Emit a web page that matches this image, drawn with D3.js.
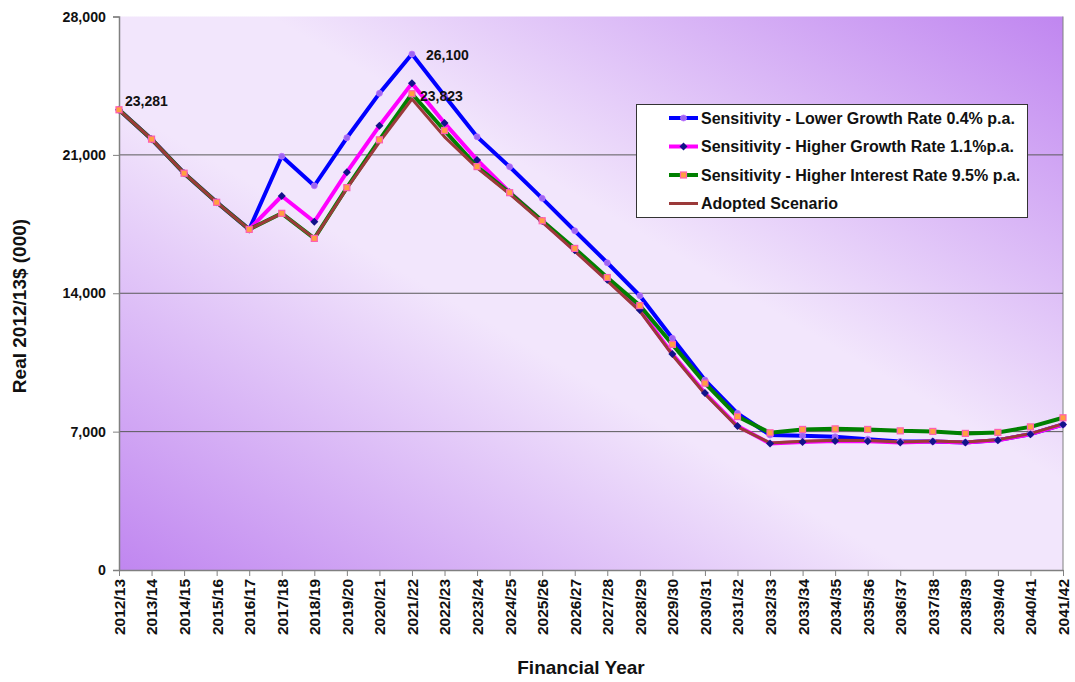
<!DOCTYPE html>
<html><head><meta charset="utf-8">
<script src="https://cdn.jsdelivr.net/npm/d3@7"></script>
<style>
html,body{margin:0;padding:0;background:#fff;}
text{font-family:"Liberation Sans",Arial,sans-serif;font-weight:bold;fill:#111;}
</style></head>
<body>
<svg id="c" width="1075" height="682"></svg>
<script>
const categories = ["2012/13","2013/14","2014/15","2015/16","2016/17","2017/18","2018/19","2019/20","2020/21","2021/22","2022/23","2023/24","2024/25","2025/26","2026/27","2027/28","2028/29","2029/30","2030/31","2031/32","2032/33","2033/34","2034/35","2035/36","2036/37","2037/38","2038/39","2039/40","2040/41","2041/42"];
const lowerGrowth = [23281,21796,20072,18601,17231,20930,19438,21866,24112,26100,23990,21916,20399,18801,17162,15543,13874,11720,9610,7926,6828,6790,6740,6620,6500,6500,6450,6570,6870,7360];
const higherGrowth = [23281,21796,20072,18601,17231,18920,17617,20123,22471,24617,22608,20747,19108,17650,16180,14680,13150,10930,8950,7280,6400,6480,6530,6515,6450,6500,6450,6565,6870,7360];
const higherInterest = [23281,21796,20072,18601,17231,18043,16775,19342,21761,24094,22233,20407,19088,17668,16268,14796,13376,11413,9452,7761,6940,7110,7140,7110,7040,7010,6910,6960,7240,7700];
const adopted = [23281,21796,20072,18601,17231,18043,16775,19300,21650,23823,21913,20341,19022,17600,16130,14630,13100,10880,8900,7240,6430,6510,6560,6545,6480,6530,6480,6595,6900,7390];
const yTicks = [0,7000,14000,21000,28000];
const seriesNames = ["Sensitivity - Lower Growth Rate 0.4% p.a.","Sensitivity - Higher Growth Rate 1.1%p.a.","Sensitivity - Higher Interest Rate 9.5% p.a.","Adopted Scenario"];
const dataLabels = [{s:3,i:0,text:"23,281",dx:6,dy:-4},{s:0,i:9,text:"26,100",dx:14,dy:6},{s:3,i:9,text:"23,823",dx:8,dy:2}];

const svg = d3.select("#c");
const L=119,R=1063,T=16.5,B=570;
const x = d3.scalePoint().domain(categories).range([L,R]);
const y = d3.scaleLinear().domain([0,28000]).range([B,T]);

const defs = svg.append("defs");
const g = defs.append("linearGradient").attr("id","bg").attr("x1",1).attr("y1",0).attr("x2",0).attr("y2",1);
g.append("stop").attr("offset",0).attr("stop-color","#c086f0");
g.append("stop").attr("offset",0.42).attr("stop-color","#f2e6fc");
g.append("stop").attr("offset",0.58).attr("stop-color","#f2e6fc");
g.append("stop").attr("offset",1).attr("stop-color","#c086f0");

svg.append("rect").attr("x",L).attr("y",T).attr("width",R-L).attr("height",B-T).attr("fill","url(#bg)");
svg.append("line").attr("x1",R).attr("x2",R).attr("y1",T).attr("y2",B).attr("stroke","#808080").attr("stroke-width",1);

svg.append("g").selectAll("line").data(yTicks.filter(d=>d>0 && d<28000)).join("line")
  .attr("x1",L).attr("x2",R).attr("y1",d=>y(d)).attr("y2",d=>y(d))
  .attr("stroke","#5a5a5a").attr("stroke-width",1);

const yAxis = svg.append("g").attr("transform",`translate(${L},0)`)
  .call(d3.axisLeft(y).tickValues(yTicks).tickSize(6).tickPadding(7).tickFormat(d3.format(",")));
yAxis.select(".domain").attr("stroke","#808080").attr("stroke-width",1.5);
yAxis.selectAll(".tick line").attr("stroke","#808080");
yAxis.selectAll(".tick text").style("font-size","14.2px").attr("fill","#111");

const xAxis = svg.append("g").attr("transform",`translate(0,${B})`)
  .call(d3.axisBottom(x).tickSize(6).tickSizeOuter(0));
xAxis.select(".domain").attr("stroke","#808080").attr("stroke-width",1.5);
xAxis.selectAll(".tick line").attr("stroke","#808080");
xAxis.selectAll(".tick text").style("font-size","15.5px").attr("fill","#111")
  .attr("transform","rotate(-90)").attr("text-anchor","end").attr("x",-9).attr("y",0).attr("dy","0.35em");

svg.append("text").attr("transform","translate(26,306) rotate(-90)").attr("text-anchor","middle")
  .style("font-size","19px").text("Real 2012/13$ (000)");
svg.append("text").attr("x",581).attr("y",674).attr("text-anchor","middle")
  .style("font-size","19px").text("Financial Year");

const series = [
  {name:seriesNames[0], values:lowerGrowth, color:"#0000ff", w:4, marker:"circle"},
  {name:seriesNames[1], values:higherGrowth, color:"#ff00ff", w:4, marker:"diamond"},
  {name:seriesNames[2], values:higherInterest, color:"#008000", w:4, marker:"square"},
  {name:seriesNames[3], values:adopted, color:"#9b3a3a", w:3, marker:null}
];
const line = d3.line().x((d,i)=>x(categories[i])).y(d=>y(d));
series.forEach(s=>{
  svg.append("path").attr("d",line(s.values)).attr("fill","none")
    .attr("stroke",s.color).attr("stroke-width",s.w).attr("stroke-linejoin","round");
});

function drawMarker(sel, type, cx, cy){
  if(type==="circle"){
    sel.append("circle").attr("cx",cx).attr("cy",cy).attr("r",3).attr("fill","#9a66f0").attr("stroke","#c070ff").attr("stroke-width",0.8);
  } else if(type==="diamond"){
    const s=4;
    sel.append("path").attr("d",`M${cx},${cy-s}L${cx+s},${cy}L${cx},${cy+s}L${cx-s},${cy}Z`).attr("fill","#12128a");
  } else if(type==="square"){
    sel.append("rect").attr("x",cx-3).attr("y",cy-3).attr("width",6).attr("height",6).attr("fill","#ffa040").attr("stroke","#ff5fb0").attr("stroke-width",1.2);
  }
}
const mg = svg.append("g");
series.forEach(s=>{
  if(!s.marker) return;
  s.values.forEach((v,i)=>drawMarker(mg, s.marker, x(categories[i]), y(v)));
});

dataLabels.forEach(d=>{
  const s = series[d.s];
  svg.append("text").attr("x",x(categories[d.i])+d.dx).attr("y",y(s.values[d.i])+d.dy)
    .style("font-size","14px").text(d.text);
});

const lg = svg.append("g");
lg.append("rect").attr("x",636.5).attr("y",104.5).attr("width",391).attr("height",113).attr("fill","#fff").attr("stroke","#333").attr("stroke-width",1);
series.forEach((s,k)=>{
  const cy = 118 + k*28.5;
  lg.append("line").attr("x1",669).attr("x2",698).attr("y1",cy).attr("y2",cy).attr("stroke",s.color).attr("stroke-width",s.w);
  if(s.marker) drawMarker(lg, s.marker, 683.5, cy);
  lg.append("text").attr("x",701).attr("y",cy).attr("dy","0.36em").style("font-size","16px").text(s.name);
});
</script>
</body></html>
